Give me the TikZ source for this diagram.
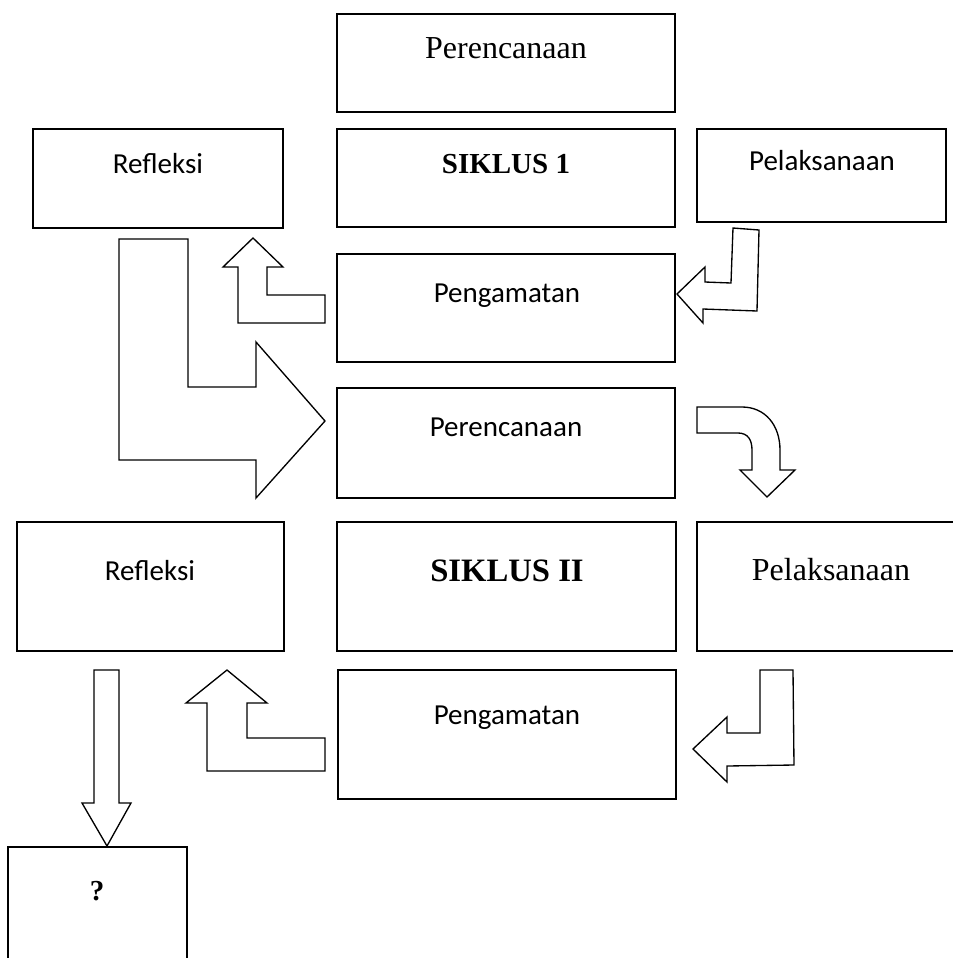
\documentclass[tikz,border=0pt]{standalone}
\usepackage{fontspec}
\setmainfont{Liberation Serif}
\newfontfamily\calibri{Carlito}
\usetikzlibrary{fit}
\begin{document}
\begin{tikzpicture}[x=0.75pt,y=-0.75pt,
  box/.style={draw, line width=1.5pt, inner sep=0pt},
  blk/.style={draw, line width=1pt, fill=white, line join=miter},
  sans/.style={anchor=base, inner sep=0pt, font=\calibri\fontsize{21.75pt}{26pt}\selectfont},
  serifbig/.style={anchor=base, inner sep=0pt, font=\fontsize{24pt}{28pt}\selectfont},
  boldsmall/.style={anchor=base, inner sep=0pt, font=\bfseries\fontsize{21.75pt}{26pt}\selectfont},
  boldbig/.style={anchor=base, inner sep=0pt, font=\bfseries\fontsize{24.5pt}{29pt}\selectfont}]
\useasboundingbox (0,0) rectangle (953,958);
% boxes
\node[box, fit={(337,14) (675,112)}] (p1) {};
\node[box, fit={(33,129) (283,228)}] (r1) {};
\node[box, fit={(337,129) (675,227)}] (s1) {};
\node[box, fit={(697,129) (946,222)}] (l1) {};
\node[box, fit={(337,254) (675,362)}] (g1) {};
\node[box, fit={(337,388) (675,498)}] (p2) {};
\node[box, fit={(17,522) (284,651)}] (r2) {};
\node[box, fit={(337,522) (676,651)}] (s2) {};
\node[box, fit={(697,522) (965,651)}] (l2) {};
\node[box, fit={(338,670) (676,799)}] (g2) {};
\node[box, fit={(8,847) (187,975)}] (q) {};
% texts
\node[serifbig] (p1t) at (506,58) {Perencanaan};
\node[sans] (r1t) at (158,173) {Refleksi};
\node[boldsmall] (s1t) at (506,173) {SIKLUS 1};
\node[sans] (l1t) at (822,170) {Pelaksanaan};
\node[sans] (g1t) at (507,302) {Pengamatan};
\node[sans] (p2t) at (506,436) {Perencanaan};
\node[sans] (r2t) at (150,580) {Refleksi};
\node[boldbig] (s2t) at (507,581) {SIKLUS II};
\node[serifbig] (l2t) at (831,580) {Pelaksanaan};
\node[sans] (g2t) at (507,724) {Pengamatan};
\node[boldsmall] (qt) at (97,900) {?};
% block arrows
\draw[blk] (253,238) -- (283,267) -- (267,267) -- (267,295) -- (325,295) -- (325,323) -- (238,323) -- (238,267) -- (223,267) -- cycle;
\draw[blk] (733,228) -- (759,230) -- (757,311) -- (703,309) -- (703,323) -- (677,294) -- (705,267) -- (705,282) -- (731,283) -- cycle;
\draw[blk] (119,239) -- (188,239) -- (188,387) -- (256,387) -- (256,342) -- (325,421) -- (256,498) -- (256,460) -- (119,460) -- cycle;
\draw[blk] (697,407) -- (742,407) .. controls (765,407) and (780,425) .. (780,450) -- (780,470) -- (795,470) -- (767,497) -- (740,470) -- (752,470) -- (752,450) .. controls (752,440) and (748,433) .. (738,433) -- (697,433) -- cycle;
\draw[blk] (227,670) -- (267,703) -- (247,703) -- (247,738) -- (325,738) -- (325,771) -- (207,771) -- (207,703) -- (186,703) -- cycle;
\draw[blk] (760,670) -- (793,670) -- (794,765) -- (727,766) -- (727,782) -- (693,749) -- (727,717) -- (727,733) -- (760,733) -- cycle;
\draw[blk] (94,670) -- (119,670) -- (119,803) -- (131,803) -- (107,846) -- (82,803) -- (94,803) -- cycle;
\end{tikzpicture}
\end{document}
